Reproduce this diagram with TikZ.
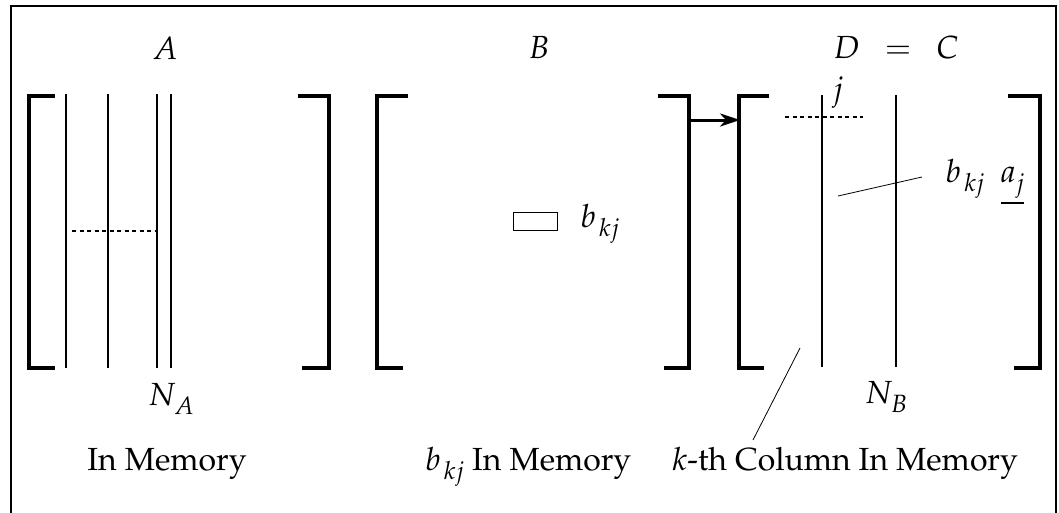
\documentclass[tikz,border=0pt]{standalone}
\usepackage[T1]{fontenc}
\usepackage{mathpazo}
\usetikzlibrary{arrows.meta}

% italic symbol with a large, well-lowered subscript (optional kern before it)
\newcommand{\lowsub}[3][3pt]{$#2$\kern#1\raisebox{-9pt}{\fontsize{25}{30}\selectfont$#3$}}

\tikzset{
  brk/.style={line width=3.3pt, line cap=butt, line join=miter},
  colline/.style={line width=1.8pt},
  dotrow/.style={line width=1.3pt, dash pattern=on 4pt off 3.5pt},
  leader/.style={line width=0.8pt},
  lbl/.style={inner sep=0pt, font=\fontsize{32}{38}\selectfont},
}

\begin{document}
\begin{tikzpicture}[x=1pt, y=-1pt]
  \useasboundingbox (0,0) rectangle (1059,512);

  % outer frame (open at the bottom edge of the page)
  \draw[line width=2pt] (11,516) |- (1056,6) -- (1056,516);

  % ---- matrix A ----
  \draw[brk] (55,96) -| (29,368) -- (55,368);
  \draw[brk] (298,96) -| (329,368) -- (302,368);
  \draw[colline] (66,94) -- (66,368);
  \draw[colline] (108,94) -- (108,368);
  \draw[colline] (157,94) -- (157,368);
  \draw[colline] (171,94) -- (171,368);
  \draw[dotrow] (72,231) -- (157,231);
  \node[lbl] (labA) at (165,48) {$A$};
  \node[lbl] (NA) at (171,399) {\lowsub[-2pt]{N}{A}};
  \node[lbl, anchor=base] (memA) at (167,470) {In Memory};

  % ---- matrix B ----
  \draw[brk] (408,96) -| (377,368) -- (403,368);
  \draw[brk] (658,96) -| (689,368) -- (664,368);
  \node[lbl] (labB) at (539,48) {$B$};
  \node[draw, leader, inner sep=0pt, minimum width=44pt, minimum height=18pt] (cell) at (535,221) {};
  \node[lbl] (bkjB) at (600,224) {\lowsub{b}{kj}};
  \node[lbl, anchor=base west] (memB) at (425,470) {\lowsub{b}{kj} In Memory};

  % ---- matrix D = C ----
  \draw[brk] (769,96) -| (739,368) -- (764,368);
  \draw[brk] (1008,96) -| (1040,368) -- (1014,368);
  \draw[colline] (822,95) -- (822,367);
  \draw[colline] (896,95) -- (896,367);
  \draw[dotrow] (785,117) -- (863,117);
  \node[lbl] (labDC) at (896,48) {$D\enspace=\enspace C$};
  \node[lbl] (labj) at (838,93) {$j$};
  \node[lbl] (NB) at (886,397) {\lowsub[-2pt]{N}{B}};
  \node[lbl] (bkja) at (985,182) {\lowsub{b}{kj}\enspace\underline{$a$\raisebox{-9pt}{\fontsize{25}{30}\selectfont$j$}}};
  \node[lbl, anchor=base west] (memC) at (672,470) {$k$-th Column In Memory};

  % element b_kj sent from B into D
  \coordinate (outB) at (689,120);
  \coordinate (inD) at (740,120);
  \draw[line width=3pt, -{Stealth[length=20pt, width=13pt, inset=6pt]}] (outB) -- (inD);

  % leader lines
  \coordinate (prodtail) at (922,177);
  \coordinate (prodhead) at (838,196);
  \draw[leader] (prodtail) -- (prodhead);
  \coordinate (ktail) at (753,440);
  \coordinate (khead) at (800,348);
  \draw[leader] (ktail) -- (khead);
\end{tikzpicture}
\end{document}
